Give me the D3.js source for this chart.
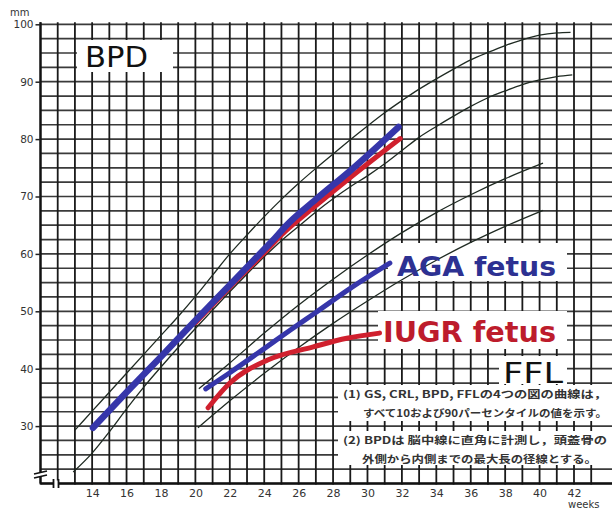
<!DOCTYPE html>
<html lang="ja">
    <head>
       <meta charset="utf-8">
       <script src="https://d3js.org/d3.v7.min.js"></script>
       <style>
         body { margin: 0; background: #fff; }
       </style>
    </head>
    <body>
        <script>
            var width  = 612;
            var height = 512;

            // tick labels
            var xTicks = [14, 16, 18, 20, 22, 24, 26, 28, 30, 32, 34, 36, 38, 40, 42];
            var yTicks = [30, 40, 50, 60, 70, 80, 90, 100];

            // BPD 10 / 90 percentile curves [weeks, mm]
            var bpdP90 = [[13,29.3],[14,32.6],[15,35.9],[16,39.2],[17,42.5],[18,45.8],[19,49.1],[20,52.6],[21,56.3],[22,60],
                          [23,63.3],[24,66.5],[25,69.5],[26,72.3],[27,74.9],[28,77.4],[29,79.9],[30,82.3],[31,84.6],[32,86.7],
                          [33,88.7],[34,90.5],[35,92.2],[36,93.8],[37,95.1],[38,96.3],[39,97.3],[40,98.1],[41,98.5],[41.8,98.6]];
            var bpdP10 = [[12.9,22],[14,25.3],[15,29],[16,33],[17,36.8],[18,40.3],[19,43.7],[20,47],[21,50.2],[22,53.4],
                          [23,56.5],[24,59.5],[25,62.3],[26,64.8],[27,67.3],[28,69.6],[29,71.7],[30,73.6],[31,75.7],[32,78],
                          [33,80.3],[34,82.2],[35,84],[36,85.7],[37,87.2],[38,88.4],[39,89.5],[40,90.3],[41,90.9],[41.9,91.2]];

            // FFL 10 / 90 percentile curves
            var fflP90 = [[20.2,36.5],[22,41],[24,46.2],[26,51.1],[28,55.6],[30,59.8],[32,63.7],[34,67.2],[36,70.3],[38,73.1],[40.2,75.8]];
            var fflP10 = [[20.15,29.7],[22,34.4],[24,39.2],[26,43.7],[28,47.9],[30,51.8],[32,55.5],[34,58.9],[36,62],[38,64.8],[40.2,67.6]];

            // measured fetuses
            var bpdAGA  = [[14.05,29.7],[16,35.9],[18,42.1],[20,48.4],[22,54.6],[24,60.8],[24.7,63],[25.2,64.7],[27,69.5],[29,74.5],[31.8,82.1]];
            var bpdIUGR = [[20,48],[22,54.2],[24,60.2],[25,63.3],[27,68.4],[29,73.3],[31.9,80.1]];
            var fflAGA  = [[20.6,36.5],[22,39.3],[24,43.5],[25.5,46.7],[27,49.8],[29,54],[31.3,58.4]];
            var fflIUGR = [[20.74,33.2],[22,37.5],[24.2,41.5],[26.85,43.8],[28.8,45.3],[30.7,46.2]];

            var notes = ["(1) GS, CRL, BPD, FFLの4つの図の曲線は，",
                         "すべて10および90パーセンタイルの値を示す。",
                         "(2) BPDは 脳中線に直角に計測し，頭蓋骨の",
                         "外側から内側までの最大長の径線とする。"];

            var svg = d3.select("body")
                        .append("svg")
                        .attr("width", width)
                        .attr("height", height);

            var x = d3.scaleLinear().domain([11, 42]).range([40.5, 574]);
            var y = d3.scaleLinear().domain([20, 100]).range([483.5, 24.3]);

            // graph paper
            var grid = svg.append("g");
            grid.selectAll(".hl")
                .data(d3.range(20, 100.1, 2.5))
                .enter().append("line")
                .attr("x1", x(11)).attr("x2", width)
                .attr("y1", function(d) { return y(d); })
                .attr("y2", function(d) { return y(d); })
                .style("stroke", "#3a3a3a").style("stroke-width", 1.7);
            grid.selectAll(".vl")
                .data(d3.range(11, 44))
                .enter().append("line")
                .attr("x1", function(d) { return x(d); })
                .attr("x2", function(d) { return x(d); })
                .attr("y1", y(100) - 2).attr("y2", y(20) + 1)
                .style("stroke", "#1a1a1a").style("stroke-width", 1.8);

            // white patches behind the labels and notes
            var patches = [[77, 40, 96, 32], [388, 243, 179, 38], [378, 311, 189, 38],
                           [499, 356, 68, 28], [338, 385, 274, 36], [338, 431, 274, 34]];
            svg.selectAll(".patch")
               .data(patches)
               .enter().append("rect")
               .attr("x", function(d) { return d[0]; })
               .attr("y", function(d) { return d[1]; })
               .attr("width", function(d) { return d[2]; })
               .attr("height", function(d) { return d[3]; })
               .style("fill", "#fff");

            // axes
            svg.append("line")
               .attr("x1", x(11)).attr("x2", width)
               .attr("y1", y(20)).attr("y2", y(20))
               .style("stroke", "#111").style("stroke-width", 2.6);
            svg.append("line")
               .attr("x1", x(11)).attr("x2", x(11))
               .attr("y1", y(100) - 2).attr("y2", y(20))
               .style("stroke", "#111").style("stroke-width", 2.2);

            var yAxis = svg.append("g")
               .attr("transform", "translate(" + x(11) + ",0)")
               .call(d3.axisLeft(y).tickValues(yTicks).tickSize(5).tickPadding(2));
            yAxis.select(".domain").remove();
            yAxis.selectAll("line").style("stroke", "#222").style("stroke-width", 1.5);
            yAxis.selectAll("text").style("font-family", "DejaVu Sans").style("font-size", "10.5px").style("fill", "#333");

            var xAxis = svg.append("g")
               .attr("transform", "translate(0," + y(20) + ")")
               .call(d3.axisBottom(x).tickValues(xTicks).tickSize(0).tickPadding(6));
            xAxis.select(".domain").remove();
            xAxis.selectAll("text").style("font-family", "DejaVu Sans").style("font-size", "11px").style("fill", "#333");

            // axis breaks
            svg.append("rect").attr("x", x(11) - 6).attr("y", 472).attr("width", 12).attr("height", 5).style("fill", "#fff");
            svg.append("path").attr("d", "M34,474 L47,471 M34,478 L47,475")
               .style("stroke", "#111").style("stroke-width", 1.6).style("fill", "none");
            svg.append("rect").attr("x", 53).attr("y", y(20) - 3).attr("width", 6).attr("height", 6).style("fill", "#fff");
            svg.append("path").attr("d", "M53.5,479 L53.5,488 M58.5,479 L58.5,488")
               .style("stroke", "#111").style("stroke-width", 1.8).style("fill", "none");

            svg.append("text").attr("x", 10).attr("y", 16).text("mm")
               .style("font-family", "DejaVu Sans").style("font-size", "10px").style("fill", "#333");
            svg.append("text").attr("x", 568).attr("y", 508).text("weeks")
               .style("font-family", "DejaVu Sans").style("font-size", "10px").style("fill", "#333");

            var line = d3.line()
                         .x(function(d) { return x(d[0]); })
                         .y(function(d) { return y(d[1]); })
                         .curve(d3.curveMonotoneX);

            // percentile curves
            [bpdP90, bpdP10, fflP90, fflP10].forEach(function(c) {
                svg.append("path").attr("d", line(c))
                   .style("fill", "none").style("stroke", "#1f2a22").style("stroke-width", 1.3);
            });

            // fetus curves
            var thick = [[bpdIUGR, "#d0202e", 5], [bpdAGA, "#3636aa", 6.5], [fflAGA, "#3636aa", 5], [fflIUGR, "#d0202e", 5]];
            thick.forEach(function(t) {
                svg.append("path").attr("d", line(t[0]))
                   .style("fill", "none").style("stroke", t[1]).style("stroke-width", t[2])
                   .style("stroke-linecap", "round").style("stroke-linejoin", "round");
            });

            // labels
            svg.append("text").attr("x", 85).attr("y", 67).text("BPD")
               .attr("textLength", 63).attr("lengthAdjust", "spacingAndGlyphs")
               .style("font-family", "DejaVu Sans").style("font-size", "28px").style("fill", "#111");
            svg.append("text").attr("x", 397).attr("y", 276).text("AGA fetus")
               .attr("textLength", 159).attr("lengthAdjust", "spacingAndGlyphs")
               .style("font-family", "DejaVu Sans").style("font-weight", "bold").style("font-size", "27px").style("fill", "#2d3192");
            svg.append("text").attr("x", 383).attr("y", 342).text("IUGR fetus")
               .attr("textLength", 173).attr("lengthAdjust", "spacingAndGlyphs")
               .style("font-family", "DejaVu Sans").style("font-weight", "bold").style("font-size", "28px").style("fill", "#bd1c2c");
            svg.append("text").attr("x", 503).attr("y", 383).text("FFL")
               .attr("textLength", 60).attr("lengthAdjust", "spacingAndGlyphs")
               .style("font-family", "DejaVu Sans").style("font-size", "28px").style("fill", "#111");

            // notes
            var noteX = [343, 363, 343, 362];
            var noteY = [398, 417, 444, 463];
            var noteW = [264, 244, 264, 235];
            svg.selectAll(".note")
               .data(notes)
               .enter().append("text")
               .attr("x", function(d, i) { return noteX[i]; })
               .attr("y", function(d, i) { return noteY[i]; })
               .attr("textLength", function(d, i) { return noteW[i]; })
               .attr("lengthAdjust", "spacingAndGlyphs")
               .text(function(d) { return d; })
               .style("font-family", "Noto Sans CJK JP").style("font-weight", "bold")
               .style("font-size", "10px").style("fill", "#333");
        </script>
    </body>
</html>
